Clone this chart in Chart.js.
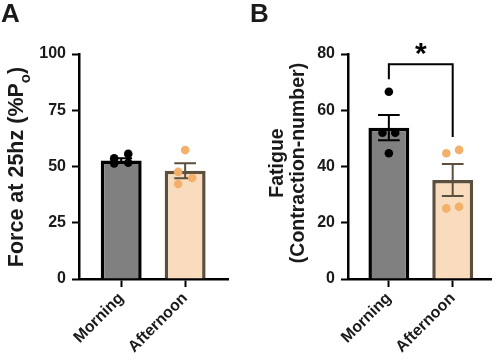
<!DOCTYPE html>
<html>
<head>
<meta charset="utf-8">
<script src="https://cdn.jsdelivr.net/npm/chart.js@4.4.1/dist/chart.umd.min.js"></script>
<style>
  html, body { margin: 0; padding: 0; background: #fff; }
  #wrap { position: relative; width: 498px; height: 363px; overflow: hidden; }
  canvas { position: absolute; top: 0; }
  #cA { left: 0; }
  #cB { left: 249px; }
  .lbl { position: absolute; top: -2px; font: bold 26px "Liberation Sans", Arial, sans-serif; color: #1a1a1a; }
</style>
</head>
<body>
<div id="wrap">
  <canvas id="cA" width="249" height="363"></canvas>
  <canvas id="cB" width="249" height="363"></canvas>
  <div class="lbl" style="left:1px">A</div>
  <div class="lbl" style="left:250px">B</div>
</div>
<script>
// ---------- data ----------
const categories = ['Morning', 'Afternoon'];

const forceMeans = [52.7, 48.1];
const forceSem = [1.0, 3.3];
const forcePoints = [[53.6, 51.4, 55.6, 51.7], [57.3, 47.6, 44.9, 42.2]];
const forceJitter = [[-0.11, -0.11, 0.11, 0.11], [0, -0.11, 0.11, -0.11]];
const forceTicks = [0, 25, 50, 75, 100];

const fatigueMeans = [53.8, 35.2];
const fatigueSem = [4.5, 5.7];
const fatiguePoints = [[66.6, 52, 52, 44.7], [44.7, 45.9, 25.1, 25.7]];
const fatigueJitter = [[0, -0.1, 0.1, 0], [-0.1, 0.1, -0.1, 0.1]];
const fatigueTicks = [0, 20, 40, 60, 80];

const bracketX = [0, 0, 1, 1];
const bracketY = [71, 76.4, 76.4, 50.5];
const sigLabel = '*';

// ---------- styles ----------
const FONT = '"Liberation Sans", Arial, sans-serif';
const fillColors = ['#808080', '#f8dcbd'];
const edgeColors = ['#000000', '#5d4f3e'];
const dotColors = ['#000000', '#f2b06b'];

function titlePlugin(lines, cx, cy, opt) {
  return {
    id: 'ytitle',
    afterDraw(chart) {
      const ctx = chart.ctx;
      ctx.save();
      ctx.fillStyle = '#1a1a1a';
      ctx.textBaseline = 'alphabetic';
      ctx.translate(cx, cy);
      ctx.rotate(-Math.PI / 2);
      const F = 'bold ' + opt.size + 'px ' + FONT;
      if (opt.sub) {
        const main = lines[0][0], sub = lines[0][1], tail = lines[0][2];
        const SF = 'bold ' + opt.subSize + 'px ' + FONT;
        ctx.font = F;
        const w1 = ctx.measureText(main).width;
        const w3 = ctx.measureText(tail).width;
        ctx.font = SF;
        const w2 = ctx.measureText(sub).width;
        const x = -(w1 + w2 + w3) / 2;
        ctx.font = F;
        ctx.fillText(main, x, 0);
        ctx.font = SF;
        ctx.fillText(sub, x + w1, opt.subShift);
        ctx.font = F;
        ctx.fillText(tail, x + w1 + w2, 0);
      } else {
        ctx.font = F;
        ctx.textAlign = 'center';
        lines.forEach((t, i) => ctx.fillText(t, 0, i * opt.lineGap));
      }
      ctx.restore();
    }
  };
}

function starPlugin(text, xVal, yVal) {
  return {
    id: 'star',
    afterDraw(chart) {
      const ctx = chart.ctx;
      const x = chart.scales.x.getPixelForValue(xVal);
      const y = chart.scales.y.getPixelForValue(yVal);
      ctx.save();
      ctx.font = 'bold 30px ' + FONT;
      ctx.fillStyle = '#000';
      ctx.textAlign = 'center';
      ctx.textBaseline = 'middle';
      ctx.fillText(text, x, y);
      ctx.restore();
    }
  };
}

function errorDataset(mean, sem, idx, half) {
  const hi = mean + sem, lo = mean - sem;
  return {
    type: 'line',
    data: [
      {x: idx - half, y: hi}, {x: idx + half, y: hi}, {x: idx, y: null},
      {x: idx, y: hi}, {x: idx, y: lo}, {x: idx, y: null},
      {x: idx - half, y: lo}, {x: idx + half, y: lo}
    ],
    borderColor: edgeColors[idx],
    borderWidth: 2,
    pointRadius: 0,
    spanGaps: false,
    tension: 0,
    order: 2
  };
}

function buildChart(canvasId, cfg) {
  const datasets = [];
  datasets.push({
    type: 'bar',
    data: cfg.means.map((m, i) => ({x: i, y: m})),
    backgroundColor: fillColors,
    borderColor: edgeColors,
    borderWidth: 3.5,
    borderSkipped: 'start',
    barPercentage: 0.64,
    categoryPercentage: 1,
    order: 3
  });
  cfg.means.forEach((m, i) => datasets.push(errorDataset(m, cfg.sem[i], i, 0.17)));
  cfg.points.forEach((pts, i) => datasets.push({
    type: 'scatter',
    data: pts.map((v, k) => ({x: i + cfg.jitter[i][k], y: v})),
    backgroundColor: dotColors[i],
    borderColor: dotColors[i],
    pointRadius: 4.3,
    borderWidth: 0,
    order: 1
  }));
  if (cfg.bracket) {
    datasets.push({
      type: 'line',
      data: cfg.bracket.x.map((x, k) => ({x: x, y: cfg.bracket.y[k]})),
      borderColor: '#000',
      borderWidth: 2,
      pointRadius: 0,
      tension: 0,
      order: 1
    });
  }
  const plugins = [titlePlugin(cfg.title, cfg.titleX, cfg.titleY, cfg.titleOpt)];
  if (cfg.star) plugins.push(starPlugin(cfg.star, 0.5, cfg.starY));
  return new Chart(document.getElementById(canvasId), {
    type: 'bar',
    data: {datasets},
    plugins,
    options: {
      responsive: false,
      devicePixelRatio: 1,
      animation: false,
      layout: {padding: {left: 0, top: 54, right: cfg.rightPad, bottom: 0}},
      plugins: {legend: {display: false}, tooltip: {enabled: false}},
      scales: {
        x: {
          type: 'linear',
          min: cfg.xMin, max: cfg.xMax,
          offset: false,
          afterBuildTicks: s => { s.ticks = categories.map((c, i) => ({value: i})); },
          afterFit: s => { s.height = 84; },
          ticks: {
            callback: v => categories[v],
            minRotation: 45, maxRotation: 45,
            autoSkip: false,
            padding: 2,
            color: '#1a1a1a',
            font: {family: FONT, size: 16, weight: 'bold'}
          },
          grid: {display: true, offset: false, drawOnChartArea: false, drawTicks: true, tickLength: 8, tickWidth: 2, tickColor: '#000'},
          border: {display: true, color: '#000', width: 2.5}
        },
        y: {
          type: 'linear',
          min: cfg.ticks[0], max: cfg.ticks[cfg.ticks.length - 1],
          afterBuildTicks: s => { s.ticks = cfg.ticks.map(v => ({value: v})); },
          afterFit: s => { s.width = cfg.axisX; },
          ticks: {
            padding: 6,
            color: '#1a1a1a',
            font: {family: FONT, size: 16, weight: 'bold'}
          },
          grid: {display: true, drawOnChartArea: false, drawTicks: true, tickLength: 7, tickWidth: 2, tickColor: '#000'},
          border: {display: true, color: '#000', width: 2.5}
        }
      }
    }
  });
}

buildChart('cA', {
  means: forceMeans, sem: forceSem, points: forcePoints, jitter: forceJitter,
  ticks: forceTicks, axisX: 79, rightPad: 21, xMin: -0.66, xMax: 1.67,
  title: [['Force at 25hz (%P', 'o', ')']],
  titleOpt: {sub: true, size: 21.5, subSize: 15, subShift: 7},
  titleX: 23, titleY: 167
});

buildChart('cB', {
  means: fatigueMeans, sem: fatigueSem, points: fatiguePoints, jitter: fatigueJitter,
  ticks: fatigueTicks, axisX: 99, rightPad: 7, xMin: -0.64, xMax: 1.6,
  bracket: {x: bracketX, y: bracketY}, star: sigLabel, starY: 79.7,
  title: ['Fatigue', '(Contraction-number)'],
  titleOpt: {sub: false, size: 19.5, lineGap: 21},
  titleX: 34, titleY: 163
});
</script>
</body>
</html>
